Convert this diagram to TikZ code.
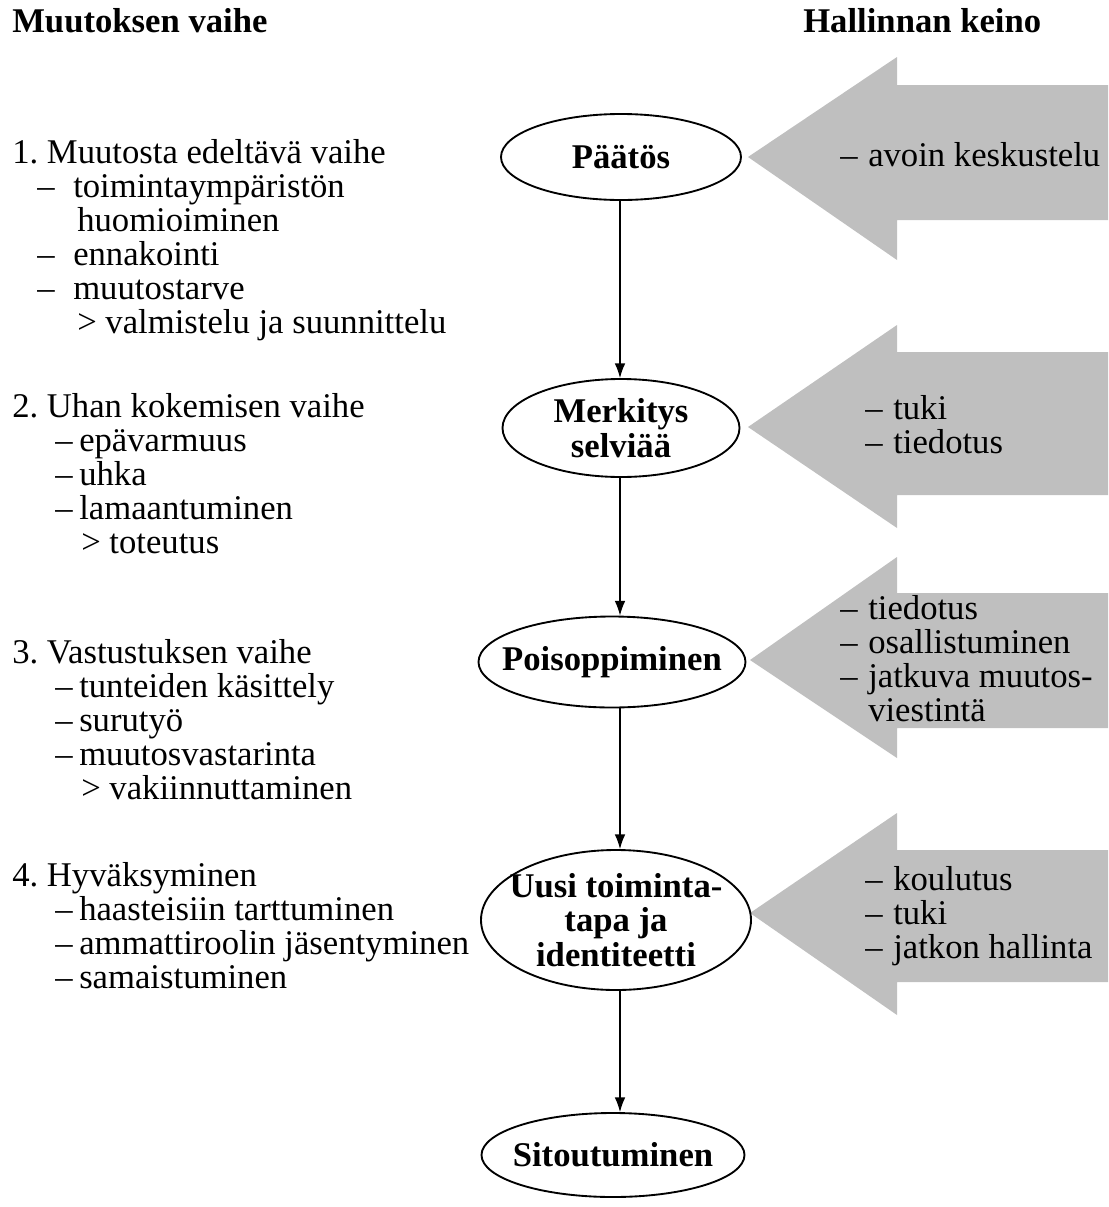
\documentclass[tikz,border=0pt]{standalone}
\usepackage{fontspec}
\setmainfont{Liberation Serif}
\usetikzlibrary{shapes.geometric,arrows.meta}
\newcommand\Dash{\hspace*{18.75pt}\makebox[27pt][l]{–}}
\newcommand\Dsh{\hspace*{32.25pt}\makebox[18pt][l]{–}}
\newcommand\Cont{\hspace*{48.75pt}}
\newcommand\Rd{\makebox[21pt][l]{–}}
\begin{document}
\frenchspacing
\begin{tikzpicture}[x=0.75pt,y=-0.75pt,
  txt/.style={font=\fontsize{26}{25.5}\selectfont, inner sep=0pt, align=left, anchor=base west},
  hdr/.style={font=\fontsize{26}{26}\selectfont\bfseries, inner sep=0pt, anchor=base west},
  stage/.style={ellipse, draw, line width=1.4pt, inner xsep=-20pt, inner ysep=-20pt,
    font=\fontsize{26}{26}\selectfont\bfseries, align=center},
  flow/.style={-{Latex[length=11pt,width=8pt]}, line width=1pt},
  tool/.style={fill=black!25, draw=none}]
\useasboundingbox (0,0) rectangle (1108,1207);

% grey arrows (Hallinnan keino)
\fill[tool] (748,157) -- (897,57) -- (897,85) -- (1108,85) -- (1108,220) -- (897,220) -- (897,260) -- cycle;
\fill[tool] (748,427) -- (897,325) -- (897,352) -- (1108,352) -- (1108,495) -- (897,495) -- (897,528) -- cycle;
\fill[tool] (750,660) -- (897,557) -- (897,593) -- (1108,593) -- (1108,728) -- (897,728) -- (897,758) -- cycle;
\fill[tool] (750,913) -- (897,813) -- (897,850) -- (1108,850) -- (1108,982) -- (897,982) -- (897,1015) -- cycle;

% headers
\node[hdr] (h1) at (12,32) {Muutoksen vaihe};
\node[hdr] (h2) at (803,32) {Hallinnan keino};

% left column (anchored at the baseline of the last line)
\node[txt] (b1) at (12,333) {1. Muutosta edeltävä vaihe\\
\Dash toimintaympäristön\\
\Cont huomioiminen\\
\Dash ennakointi\\
\Dash muutostarve\\
\Cont > valmistelu ja suunnittelu};
\node[txt] (b2) at (12,553) {2. Uhan kokemisen vaihe\\
\Dsh epävarmuus\\
\Dsh uhka\\
\Dsh lamaantuminen\\
\Cont\hspace*{3pt}> toteutus};
\node[txt] (b3) at (12,799) {3. Vastustuksen vaihe\\
\Dsh tunteiden käsittely\\
\Dsh surutyö\\
\Dsh muutosvastarinta\\
\Cont\hspace*{3pt}> vakiinnuttaminen};
\node[txt] (b4) at (12,988) {4. Hyväksyminen\\
\Dsh haasteisiin tarttuminen\\
\Dsh ammattiroolin jäsentyminen\\
\Dsh samaistuminen};

% stages
\node[stage, minimum width=180pt, minimum height=64.5pt] (p1) at (621,157) {Päätös};
\node[stage, minimum width=177.75pt, minimum height=73.5pt] (p2) at (621,428) {Merkitys\\selviää};
\node[stage, minimum width=200.25pt, minimum height=68.25pt] (p3) at (612,662) {Poisoppiminen};
\node[stage, minimum width=202.5pt, minimum height=105pt] (p4) at (616,920) {Uusi toiminta-\\tapa ja\\identiteetti};
\node[stage, minimum width=197.25pt, minimum height=63pt] (p5) at (613,1155) {Sitoutuminen};

\coordinate (ax) at (620,0);
\draw[flow] (p1.south -| ax) -- (p2.north -| ax);
\draw[flow] (p2.south -| ax) -- (p3.north -| ax);
\draw[flow] (p3.south -| ax) -- (p4.north -| ax);
\draw[flow] (p4.south -| ax) -- (p5.north -| ax);

% right texts (anchored at the baseline of the last line)
\node[txt] (r1) at (840,166) {\Rd avoin keskustelu};
\node[txt] (r2) at (865,453) {\Rd tuki\\ \Rd tiedotus};
\node[txt] (r3) at (840,721) {\Rd tiedotus\\ \Rd osallistuminen\\ \Rd jatkuva muutos-\\ \hspace*{21pt}viestintä};
\node[txt] (r4) at (865,958) {\Rd koulutus\\ \Rd tuki\\ \Rd jatkon hallinta};
\end{tikzpicture}
\end{document}
